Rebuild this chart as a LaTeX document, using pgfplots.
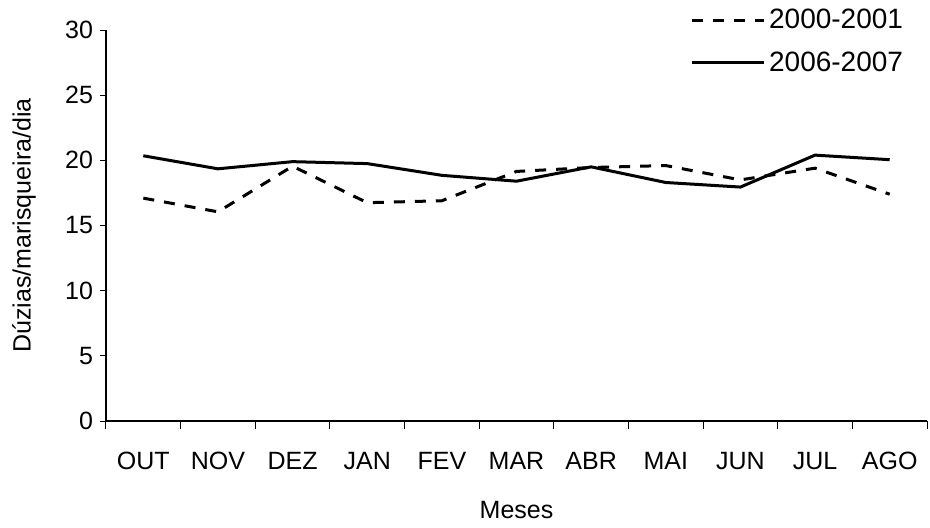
\documentclass[border=0pt]{standalone}
\usepackage{fontspec}
\setmainfont{Liberation Sans}
\usepackage{pgfplots}
\pgfplotsset{compat=1.18}
\begin{document}
\begin{tikzpicture}
\useasboundingbox (-53pt,-53pt) rectangle (412pt,210.5pt);
\begin{axis}[
  at={(0,0)}, anchor=south west,
  scale only axis, width=410.5pt, height=195.5pt,
  xmin=-0.5, xmax=10.5, ymin=0, ymax=30,
  axis x line=bottom, axis y line=left,
  axis line style={-, black, line width=0.6pt},
  xtick={0,...,10},
  xticklabels={OUT,NOV,DEZ,JAN,FEV,MAR,ABR,MAI,JUN,JUL,AGO},
  major x tick style={draw=none},
  minor xtick={-0.5,0.5,...,10.5},
  minor x tick style={black, line width=0.5pt},
  ytick={0,5,...,30},
  tick align=outside,
  major tick length=3pt,
  minor tick length=4pt,
  y tick style={black, line width=0.5pt},
  font=\fontsize{12.5}{14}\selectfont,
  /pgf/number format/assume math mode=true,
  xticklabel style={yshift=-9pt},
  xlabel={Meses},
  ylabel={Dúzias/marisqueira/dia},
  xlabel style={at={(axis description cs:0.5,0)}, anchor=center, yshift=-44.5pt},
  ylabel style={at={(axis description cs:0,0.5)}, anchor=center, yshift=41pt},
  legend style={at={(0.711,1.065)}, anchor=north west, draw=none, fill=none,
    font=\fontsize{14}{16}\selectfont, row sep=6pt, inner sep=0pt,
    /tikz/every even column/.append style={column sep=0pt}},
  legend cell align=left,
  legend image code/.code={\draw[#1] (0pt,0pt) -- (36pt,0pt);},
]
\addplot[black, line width=1.5pt, dash pattern=on 5.5pt off 5pt] coordinates {
 (0,17.1) (1,16.05) (2,19.55) (3,16.75) (4,16.9) (5,19.15) (6,19.45) (7,19.6) (8,18.5) (9,19.4) (10,17.4)};
\addlegendentry{2000-2001}
\addplot[black, line width=1.5pt] coordinates {
 (0,20.35) (1,19.35) (2,19.9) (3,19.75) (4,18.85) (5,18.4) (6,19.5) (7,18.3) (8,17.95) (9,20.4) (10,20.05)};
\addlegendentry{2006-2007}
\end{axis}
\end{tikzpicture}
\end{document}
